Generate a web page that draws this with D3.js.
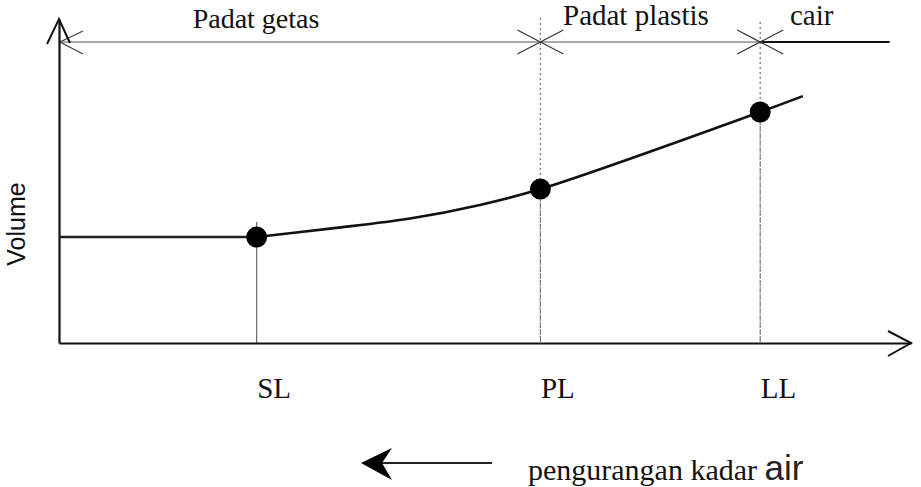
<!DOCTYPE html>
<html>
<head>
<meta charset="utf-8">
<script src="https://cdn.jsdelivr.net/npm/d3@7/dist/d3.min.js"></script>
<style>
  html, body { margin: 0; padding: 0; background: #fff; }
  svg { display: block; }
</style>
</head>
<body>
<svg id="chart" width="921" height="487"></svg>
<script>
// ---- data ----
const limitNames = ["SL", "PL", "LL"];
const limitWater = [23.2, 56.5, 82.3];      // water content (relative units)
const limitVolume = [32.7, 47.5, 71.3];     // volume at each limit
const flatWater = [0, 23.2];                // constant-volume part (below SL)
const flatVolume = [32.7, 32.7];
const curveWater = [23.2, 31.8, 41.2, 49.4, 56.5, 82.3, 87.3];
const curveVolume = [32.7, 35.3, 38.4, 42.6, 47.5, 71.3, 76.2];
const stateNames = ["Padat getas", "Padat plastis", "cair"];
const stateLevel = 92.9;                    // level of the state band line
const stateEnd = 97.5;                      // right end of the state band line
const axisLabelY = "Volume";
const directionText = "pengurangan kadar ";
const directionText2 = "air";

// ---- layout ----
const svg = d3.select("#chart");
const x = d3.scaleLinear().domain([0, 100]).range([59, 911]);
const y = d3.scaleLinear().domain([0, 100]).range([343, 19]);
const serif = "'Liberation Serif', 'Times New Roman', serif";
const sans = "'Liberation Sans', Arial, sans-serif";

// vertical guide lines
const guides = svg.append("g");
limitNames.forEach((n, i) => {
  const gx = x(limitWater[i]);
  if (i === 0) {
    guides.append("line").attr("x1", gx).attr("x2", gx)
      .attr("y1", y(limitVolume[i]) - 15).attr("y2", y(0))
      .attr("stroke", "#666").attr("stroke-width", 1.2);
  } else {
    guides.append("line").attr("x1", gx).attr("x2", gx)
      .attr("y1", i === 1 ? 18 : 22).attr("y2", y(limitVolume[i]))
      .attr("stroke", "#777").attr("stroke-width", 1.3)
      .attr("stroke-dasharray", "2,3");
    guides.append("line").attr("x1", gx).attr("x2", gx)
      .attr("y1", y(limitVolume[i])).attr("y2", y(0))
      .attr("stroke", "#777").attr("stroke-width", 1.2)
      .attr("stroke-dasharray", "6,1");
  }
});

// state band line at top
const band = svg.append("g");
const yb = y(stateLevel);
band.append("line").attr("x1", x(0)).attr("x2", x(limitWater[2]))
  .attr("y1", yb).attr("y2", yb).attr("stroke", "#555").attr("stroke-width", 1.2);
band.append("line").attr("x1", x(limitWater[2])).attr("x2", x(stateEnd))
  .attr("y1", yb).attr("y2", yb).attr("stroke", "#111").attr("stroke-width", 2.2);
// left arrow "<"
band.append("path")
  .attr("d", `M${x(0) + 24},${yb - 11} L${x(0) + 1},${yb} L${x(0) + 24},${yb + 12}`)
  .attr("fill", "none").attr("stroke", "#444").attr("stroke-width", 1.3);
// X markers at PL and LL
[1, 2].forEach(i => {
  const cx = x(limitWater[i]);
  band.append("path")
    .attr("d", `M${cx - 23},${yb - 12} L${cx + 23},${yb + 12} M${cx - 23},${yb + 12} L${cx + 23},${yb - 12}`)
    .attr("stroke", "#333").attr("stroke-width", 1.2).attr("fill", "none");
});

// state labels
const stateX = [256, 563, 790];
const stateAnchor = ["middle", "start", "start"];
const stateBase = [28, 25, 25];
const stateSize = [28, 29, 29];
stateNames.forEach((s, i) => {
  svg.append("text").attr("x", stateX[i]).attr("y", stateBase[i])
    .attr("text-anchor", stateAnchor[i])
    .attr("font-family", serif).attr("font-size", stateSize[i]).attr("fill", "#111")
    .text(s);
});

// axes
const xAxis = d3.axisBottom(x).tickValues(limitWater)
  .tickFormat((d, i) => limitNames[i]).tickSize(0).tickSizeOuter(0);
const gx = svg.append("g").attr("transform", `translate(0,${y(0)})`).call(xAxis);
gx.select(".domain").attr("stroke", "#111").attr("stroke-width", 2.2);
gx.selectAll(".tick text")
  .attr("text-anchor", "start").attr("dy", null).attr("y", 55)
  .attr("font-family", serif).attr("font-size", 29).attr("fill", "#111");

const yAxis = d3.axisLeft(y).tickValues([]).tickSize(0).tickSizeOuter(0);
const gy = svg.append("g").attr("transform", `translate(${x(0)},0)`).call(yAxis);
gy.select(".domain").attr("stroke", "#111").attr("stroke-width", 2.2);

// axis arrowheads
svg.append("path")
  .attr("d", `M${x(100) - 23},${y(0) - 12} L${x(100)},${y(0)} L${x(100) - 23},${y(0) + 13}`)
  .attr("fill", "none").attr("stroke", "#111").attr("stroke-width", 2);
svg.append("path")
  .attr("d", `M${x(0) - 12},${y(100) + 25} L${x(0)},${y(100)} L${x(0) + 11},${y(100) + 24}`)
  .attr("fill", "none").attr("stroke", "#111").attr("stroke-width", 2);

// y axis title
svg.append("text")
  .attr("transform", `translate(25,224) rotate(-90)`)
  .attr("text-anchor", "middle")
  .attr("font-family", sans).attr("font-size", 25).attr("fill", "#111")
  .text(axisLabelY);

// volume curve: flat part then smooth rise
const flatPts = flatWater.map((w, i) => [w, flatVolume[i]]);
const pts = curveWater.map((w, i) => [w, curveVolume[i]]);
const flatLine = d3.line().x(d => x(d[0])).y(d => y(d[1]));
const line = d3.line().x(d => x(d[0])).y(d => y(d[1])).curve(d3.curveCatmullRom.alpha(0.5));
svg.append("path").datum(flatPts).attr("d", flatLine)
  .attr("fill", "none").attr("stroke", "#222").attr("stroke-width", 2.6);
svg.append("path").datum(pts).attr("d", line)
  .attr("fill", "none").attr("stroke", "#111").attr("stroke-width", 2.6);

// limit dots
svg.selectAll("circle.limit").data(limitWater).join("circle")
  .attr("class", "limit")
  .attr("cx", d => x(d)).attr("cy", (d, i) => y(limitVolume[i]))
  .attr("r", 10.5).attr("fill", "#000");

// direction arrow
const ay = 463;
svg.append("line").attr("x1", 380).attr("x2", 492).attr("y1", ay).attr("y2", ay)
  .attr("stroke", "#222").attr("stroke-width", 2.2);
svg.append("path")
  .attr("d", `M361,${ay} L392,${ay - 15} L382,${ay} L392,${ay + 17} Z`)
  .attr("fill", "#000");

const dir = svg.append("text").attr("x", 528).attr("y", 480)
  .attr("font-family", serif).attr("font-size", 30).attr("fill", "#111");
dir.append("tspan").text(directionText);
dir.append("tspan").attr("font-family", sans).attr("font-size", 35).attr("fill", "#222").text(directionText2);
</script>
</body>
</html>
